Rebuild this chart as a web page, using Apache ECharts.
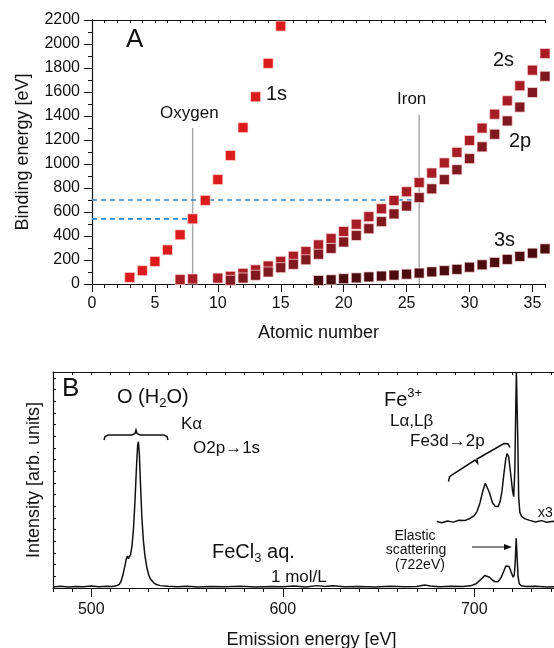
<!DOCTYPE html>
<html>
<head>
<meta charset="utf-8">
<script src="https://cdn.jsdelivr.net/npm/echarts@6/dist/echarts.min.js"></script>
<style>
  html, body { margin: 0; padding: 0; background: #fff; }
  #chart { width: 554px; height: 648px; }
</style>
</head>
<body>
<div id="chart"></div>
<script>
// ---- panel A: binding energies [eV] by atomic number ----
const z1s = [3, 4, 5, 6, 7, 8, 9, 10, 11, 12, 13, 14, 15]
const e1s = [55, 111, 188, 284, 410, 543, 697, 870, 1071, 1303, 1560, 1839, 2149]

const z2s = [7, 8, 10, 11, 12, 13, 14, 15, 16, 17, 18, 19, 20, 21, 22, 23, 24, 25, 26, 27, 28, 29, 30, 31, 32, 33, 34, 35, 36]
const e2s = [37, 42, 49, 64, 89, 118, 150, 189, 231, 270, 326, 379, 438, 498, 561, 627, 696, 769, 845, 925, 1009, 1097, 1196, 1299, 1415, 1527, 1652, 1782, 1921]

const z2p = [11, 12, 13, 14, 15, 16, 17, 18, 19, 20, 21, 22, 23, 24, 25, 26, 27, 28, 29, 30, 31, 32, 33, 34, 35, 36]
const e2p = [31, 50, 73, 100, 136, 164, 202, 248, 297, 350, 404, 461, 520, 584, 650, 720, 793, 870, 952, 1045, 1143, 1248, 1359, 1474, 1596, 1731]

const z3s = [18, 19, 20, 21, 22, 23, 24, 25, 26, 27, 28, 29, 30, 31, 32, 33, 34, 35, 36]
const e3s = [29, 35, 44, 51, 59, 66, 74, 82, 91, 101, 111, 122, 140, 160, 180, 205, 230, 257, 293]

const xTicksA = [0, 5, 10, 15, 20, 25, 30, 35]
const oxygenLine = [[8, 0], [8, 1300]]
const ironLine = [[26, 0], [26, 1410]]
const dash700 = [[0, 700], [25.4, 700]]
const dash543 = [[0, 543], [7.6, 543]]

// ---- panel B: emission spectra (arb. units) ----
const lowE = [480, 484, 488, 492, 496, 500, 504, 508, 511, 513, 514.5, 515.5, 516.5, 517.5, 518.3, 518.9, 519.4, 519.9, 520.5, 521.2, 522, 522.8, 523.6, 524.2, 524.6, 525.1, 525.7, 526.4, 527.2, 528, 529, 530, 531, 532.5, 534, 536, 540, 545, 550, 556, 562, 570, 578, 586, 594, 600, 606, 612, 618, 622, 626, 632, 640, 648, 656, 664, 670, 674, 677, 682, 688, 694, 698, 701, 703.5, 705.5, 706.5, 708, 709.5, 711, 712.5, 714, 715.5, 716.5, 717.3, 718.2, 719.2, 720.3, 720.9, 721.4, 721.9, 722.4, 722.9, 723.5, 724.5, 727, 732, 738, 744, 750]
const lowI = [0.5, 0.8, 0.5, 0.7, 0.6, 0.9, 0.6, 0.8, 0.7, 1.0, 1.6, 3, 6, 10, 13.5, 14.8, 13.6, 14.2, 15.5, 19, 27, 40, 56, 66, 67.7, 62, 48, 33, 22, 15, 9.5, 6, 4, 2.5, 1.6, 1.1, 0.8, 0.6, 0.8, 0.5, 0.7, 0.6, 0.8, 0.5, 0.7, 0.6, 0.9, 0.5, 1.1, 0.7, 1.0, 0.6, 0.7, 0.5, 0.8, 0.6, 0.7, 1.4, 0.9, 0.6, 0.8, 0.7, 1.0, 2, 4, 5.8, 6.2, 5, 3.6, 2.9, 3, 4.8, 8, 10.2, 10.8, 10, 7.5, 5, 6, 12, 23, 14, 5, 2, 1, 0.7, 0.8, 0.5, 0.7, 0.6]

const upE = [680.5, 683, 686, 689, 692, 695, 698, 700, 701.5, 703, 704.5, 705.8, 706.8, 708, 709.5, 711, 712.5, 713.5, 714.5, 715.5, 716.5, 717.2, 718, 719, 720, 720.6, 721.2, 721.7, 722, 722.3, 722.7, 723.2, 723.8, 724.8, 726.5, 729, 732, 735, 738, 741, 744, 750]
const upI = [30.8, 30.2, 31.0, 30.5, 31.4, 31.2, 32.3, 33.5, 35.5, 39.5, 45, 48.5, 48, 44, 39.5, 37.8, 37.7, 40, 45, 53, 60, 62.3, 60.5, 53, 45, 42.3, 55, 85, 100, 100, 70, 42, 35, 33, 32, 31.3, 30.6, 31.2, 30.4, 30.9, 30.5, 30.6]

const xTicksB = [500, 600, 700]

const FONT = 'Liberation Sans, Arial, sans-serif'
const pair = (xs, ys) => xs.map((x, i) => [x, ys[i]])

const chartInstance = echarts.init(document.getElementById('chart'))

// 小方块
function squares (name, xs, ys, color) {
  return {
    name: name,
    type: 'scatter',
    xAxisIndex: 0,
    yAxisIndex: 0,
    symbol: 'rect',
    symbolSize: 10,
    data: pair(xs, ys),
    itemStyle: { color: color, borderColor: 'rgba(255,220,220,0.7)', borderWidth: 1, opacity: 1 },
    z: 3
  }
}

function guide (data, color, type, width) {
  return {
    type: 'line',
    xAxisIndex: 0,
    yAxisIndex: 0,
    data: data,
    symbol: 'none',
    silent: true,
    lineStyle: { color: color, type: type, width: width },
    z: 2
  }
}

function txt (x, y, text, size, align) {
  return {
    type: 'text',
    x: x,
    y: y,
    style: { text: text, font: size + 'px ' + FONT, fill: '#111', textAlign: align || 'left', textVerticalAlign: 'middle' }
  }
}

function richTxt (x, y, text, lowered) {
  return {
    type: 'text', x: x, y: y,
    style: {
      text: text, fill: '#111', textVerticalAlign: 'middle',
      rich: {
        m: { font: '20px ' + FONT, lineHeight: 26, verticalAlign: 'middle' },
        s: { font: '13px ' + FONT, lineHeight: 26, verticalAlign: lowered ? 'bottom' : 'top' }
      }
    }
  }
}

const lineColor = '#111'
const plain = v => String(v)

const option = {
  backgroundColor: '#fff',
  animation: false,
  grid: [
    { left: 92, width: 453, top: 20, height: 264, outerBoundsMode: 'none' },
    // 右边超出画布
    { left: 53, width: 517, top: 372, height: 216, outerBoundsMode: 'none' }
  ],
  xAxis: [
    {
      gridIndex: 0, type: 'value', min: 0, max: 36, position: 'bottom',
      name: 'Atomic number', nameLocation: 'middle', nameGap: 40,
      nameTextStyle: { fontSize: 18, fontFamily: FONT, color: '#111' },
      axisLine: { lineStyle: { color: lineColor, width: 1.2 } },
      axisTick: { customValues: xTicksA, length: 8, lineStyle: { color: lineColor } },
      axisLabel: { customValues: xTicksA, fontSize: 16, fontFamily: FONT, color: '#111', margin: 12, formatter: plain },
      splitLine: { show: false }
    },
    {
      gridIndex: 0, type: 'value', min: 0, max: 36, interval: 1, position: 'bottom',
      axisLine: { show: false },
      axisTick: { length: 4, lineStyle: { color: lineColor } },
      axisLabel: { show: false },
      splitLine: { show: false }
    },
    {
      gridIndex: 0, type: 'value', min: 0, max: 36, interval: 1, position: 'top',
      axisLine: { lineStyle: { color: lineColor, width: 1 } },
      axisTick: { inside: true, length: 3, lineStyle: { color: lineColor } },
      axisLabel: { show: false },
      splitLine: { show: false }
    },
    {
      gridIndex: 1, type: 'value', min: 480, max: 750, position: 'bottom',
      name: 'Emission energy [eV]', nameLocation: 'middle', nameGap: 43,
      nameTextStyle: { fontSize: 18, fontFamily: FONT, color: '#111' },
      axisLine: { lineStyle: { color: lineColor, width: 1.2 } },
      axisTick: { customValues: xTicksB, length: 9, lineStyle: { color: lineColor } },
      axisLabel: { customValues: xTicksB, fontSize: 16, fontFamily: FONT, color: '#111', margin: 14, formatter: plain },
      splitLine: { show: false }
    },
    {
      gridIndex: 1, type: 'value', min: 480, max: 750, interval: 10, position: 'bottom',
      axisLine: { show: false },
      axisTick: { length: 4, lineStyle: { color: lineColor } },
      axisLabel: { show: false },
      splitLine: { show: false }
    },
    {
      gridIndex: 1, type: 'value', min: 480, max: 750, interval: 10, position: 'top',
      axisLine: { lineStyle: { color: lineColor, width: 1 } },
      axisTick: { inside: true, length: 3, lineStyle: { color: lineColor } },
      axisLabel: { show: false },
      splitLine: { show: false }
    }
  ],
  yAxis: [
    {
      gridIndex: 0, type: 'value', min: 0, max: 2200, interval: 200, position: 'left',
      name: 'Binding energy [eV]', nameLocation: 'middle', nameGap: 60,
      nameTextStyle: { fontSize: 18, fontFamily: FONT, color: '#111' },
      axisLine: { lineStyle: { color: lineColor, width: 1.2 } },
      axisTick: { length: 8, lineStyle: { color: lineColor } },
      minorTick: { show: true, splitNumber: 2, length: 4, lineStyle: { color: lineColor } },
      axisLabel: { fontSize: 16, fontFamily: FONT, color: '#111', margin: 12, formatter: plain },
      splitLine: { show: false }
    },
    {
      gridIndex: 0, type: 'value', min: 0, max: 2200, interval: 100, position: 'right',
      axisLine: { show: true, lineStyle: { color: lineColor, width: 1 } },
      axisTick: { inside: true, length: 3, lineStyle: { color: lineColor } },
      axisLabel: { show: false },
      splitLine: { show: false }
    },
    {
      gridIndex: 1, type: 'value', min: 0, max: 100, interval: 5.4, position: 'left',
      name: 'Intensity [arb. units]', nameLocation: 'middle', nameGap: 10,
      nameTextStyle: { fontSize: 18, fontFamily: FONT, color: '#111' },
      axisLine: { lineStyle: { color: lineColor, width: 1.2 } },
      axisTick: { inside: true, length: 3, lineStyle: { color: lineColor } },
      axisLabel: { show: false },
      splitLine: { show: false }
    }
  ],
  series: [
    guide(oxygenLine, '#aaa', 'solid', 1.5),
    guide(ironLine, '#aaa', 'solid', 1.5),
    guide(dash700, '#2a86d0', [5, 4], 1.6),
    guide(dash543, '#2a86d0', [5, 4], 1.6),
    squares('1s', z1s, e1s, '#dc1c1c'),
    squares('2s', z2s, e2s, '#a81c26'),
    squares('2p', z2p, e2p, '#801820'),
    squares('3s', z3s, e3s, '#4a0a0e'),
    {
      name: 'upper', type: 'line', xAxisIndex: 3, yAxisIndex: 2,
      data: pair(upE, upI), symbol: 'none', clip: true,
      lineStyle: { color: '#111', width: 1.5 }
    },
    {
      name: 'lower', type: 'line', xAxisIndex: 3, yAxisIndex: 2,
      data: pair(lowE, lowI), symbol: 'none', clip: true,
      lineStyle: { color: '#111', width: 1.5 }
    }
  ],
  graphic: [
    // panel A labels
    txt(126, 40, 'A', 26),
    txt(266, 94, '1s', 20),
    txt(493, 60, '2s', 20),
    txt(509, 141, '2p', 20),
    txt(494, 240, '3s', 20),
    txt(160, 113, 'Oxygen', 17),
    txt(397, 99, 'Iron', 17),
    // panel B labels
    txt(62, 389, 'B', 26),
    richTxt(117, 397, '{m|O (H}{s|2}{m|O)}', true),
    txt(181, 424, 'Kα', 17),
    txt(193, 448, 'O2p→1s', 17),
    richTxt(384, 400, '{m|Fe}{s|3+}', false),
    txt(390, 421, 'Lα,Lβ', 17),
    txt(410, 441, 'Fe3d→2p', 17),
    txt(538, 513, 'x3', 14),
    txt(415, 536, 'Elastic', 14, 'center'),
    txt(416, 550, 'scattering', 14, 'center'),
    txt(420, 565, '(722eV)', 14, 'center'),
    richTxt(212, 552, '{m|FeCl}{s|3}{m| aq.}', true),
    txt(271, 577, '1 mol/L', 17),
    // braces and arrow
    {
      type: 'polyline',
      shape: { points: [[104, 440], [105, 436.5], [108, 435], [132, 435], [135, 433.5], [136, 430], [137, 433.5], [140, 435], [164, 435], [167, 436.5], [168, 440]] },
      style: { stroke: '#111', lineWidth: 1.5, fill: null }
    },
    {
      type: 'polyline',
      shape: { points: [[448.5, 481.5], [449.5, 477], [452.5, 474.5], [475, 460], [477.5, 463], [477, 459], [504, 443.5], [508, 443.8], [510, 447.5]] },
      style: { stroke: '#111', lineWidth: 1.5, fill: null }
    },
    {
      type: 'line',
      shape: { x1: 472, y1: 547, x2: 505, y2: 547 },
      style: { stroke: '#111', lineWidth: 1.2 }
    },
    {
      type: 'polygon',
      shape: { points: [[512, 547], [504, 544], [504, 550]] },
      style: { fill: '#111' }
    }
  ]
}

chartInstance.setOption(option)
</script>
</body>
</html>
